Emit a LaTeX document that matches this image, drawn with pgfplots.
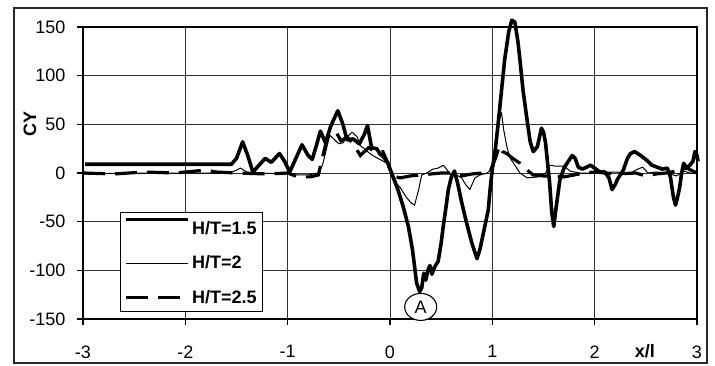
\documentclass[border=0pt]{standalone}
\usepackage{pgfplots}
\pgfplotsset{compat=1.18}
\usepackage{fontspec}
\setmainfont{Liberation Sans}
\usetikzlibrary{shapes.geometric}
\pgfplotsset{
  raisedleg/.style={legend image code/.code={\draw[##1] (0pt,9pt) -- (62pt,9pt);}},
  flatleg/.style={legend image code/.code={\draw[##1] (0pt,0pt) -- (62pt,0pt);}},
}

\pgfplotstableread{
x y
-2.98 9
-1.55 9
-1.50 15
-1.44 32
-1.39 18
-1.34 1
-1.28 8
-1.22 15
-1.16 11
-1.08 20
-1.03 12
-0.98 1
-0.92 15
-0.86 29
-0.80 18
-0.76 14
-0.72 28
-0.68 43
-0.63 31
-0.58 48
-0.51 64
-0.46 50
-0.42 34
-0.36 35
-0.30 30
-0.25 40
-0.22 49
-0.18 26
-0.13 25
-0.10 20
-0.06 16
-0.02 10
0.03 -4
0.08 -18
0.13 -35
0.18 -55
0.22 -79
0.26 -113
0.29 -122
0.31 -118
0.33 -103
0.35 -110
0.37 -100
0.39 -95
0.41 -104
0.43 -98
0.45 -94
0.47 -91
0.50 -72
0.52 -55
0.55 -33
0.57 -17
0.60 -4
0.63 2
0.66 -10
0.70 -30
0.75 -52
0.80 -72
0.85 -88
0.88 -78
0.92 -58
0.96 -38
0.98 -15
1.00 4
1.03 25
1.06 54
1.09 85
1.12 116
1.16 145
1.19 157
1.22 155
1.25 135
1.27 116
1.30 85
1.34 54
1.37 32
1.40 22
1.44 27
1.48 46
1.50 42
1.52 31
1.54 10
1.56 -10
1.58 -40
1.60 -55
1.62 -38
1.66 -7
1.70 5
1.73 10
1.78 18
1.81 15
1.84 6
1.88 4
1.92 6
1.96 8
2.00 5
2.05 1
2.10 1
2.14 -5
2.17 -17
2.20 -12
2.22 -7
2.28 3
2.32 15
2.35 20
2.39 22
2.45 18
2.51 13
2.56 8
2.61 6
2.66 4
2.71 5
2.74 -4
2.77 -25
2.79 -33
2.81 -25
2.83 -15
2.85 0
2.87 10
2.90 5
2.93 8
2.96 12
2.98 22
3.00 18
3.01 12
}\tA

\pgfplotstableread{
x y
-3.00 -1
-2.50 0
-2.00 0
-1.60 0
-1.52 2
-1.46 5
-1.40 1
-1.30 0
-1.00 -1
-0.90 -2
-0.80 -2
-0.70 0
-0.66 8
-0.62 25
-0.59 39
-0.56 36
-0.54 34
-0.50 30
-0.46 31
-0.41 38
-0.37 42
-0.32 37
-0.29 28
-0.25 25
-0.22 22
-0.17 18
-0.10 14
-0.03 10
0.03 -7
0.10 -15
0.16 -25
0.21 -31
0.24 -33
0.28 -17
0.31 -2
0.36 0
0.42 4
0.47 5
0.52 8
0.56 3
0.59 -2
0.65 -2
0.70 -5
0.74 -12
0.78 -17
0.83 -5
0.88 -2
0.95 0
1.00 5
1.04 30
1.07 55
1.09 62
1.11 45
1.14 28
1.17 16
1.22 8
1.27 0
1.34 -5
1.45 -4
1.52 0
1.56 8
1.62 7
1.70 7
1.76 2
1.85 0
2.00 0
2.20 1
2.35 0
2.42 4
2.47 6
2.52 0
2.60 1
2.70 0
2.80 -3
2.87 2
2.93 0
3.00 0
}\tB

\pgfplotstableread{
x y
-3.00 0
-2.70 -1
-2.40 1
-2.10 0
-1.80 3
-1.70 1
-1.50 0
-1.20 -1
-1.00 0
-0.90 -4
-0.78 -4
-0.70 -2
-0.66 16
-0.63 29
-0.59 41
-0.52 41
-0.48 33
-0.42 37
-0.36 30
-0.29 18
-0.21 26
-0.13 21
-0.07 22
-0.02 10
0.02 -3
0.10 -5
0.20 -3
0.30 -2
0.40 -1
0.50 0
0.60 0
0.70 -3
0.80 -1
0.90 0
0.98 2
1.03 15
1.07 28
1.10 22
1.14 20
1.20 15
1.27 10
1.30 6
1.34 3
1.40 -2
1.50 -3
1.60 -3
1.70 -4
1.80 -2
1.90 0
2.00 1
2.20 -1
2.40 0
2.50 -3
2.60 -1
2.70 0
2.80 2
2.90 5
3.00 0
}\tC

\begin{document}
\begin{tikzpicture}
\useasboundingbox (-83pt,-46pt) rectangle (632pt,319pt);
\draw[line width=1.4pt, black!85] (-69pt,-44pt) rectangle (624pt,311pt);
\begin{axis}[
  at={(0pt,0pt)}, anchor=south west,
  scale only axis, width=614pt, height=292pt,
  xmin=-3, xmax=3, ymin=-150, ymax=150,
  clip=false,
  xtick={-3,-2,-1,0,1,2,3},
  ytick={-150,-100,-50,0,50,100,150},
  grid=major,
  grid style={line width=0.9pt, draw=black!80},
  axis line style={line width=1.3pt},
  tick align=outside, tick pos=left,
  major tick length=6pt,
  tick style={line width=1.1pt, black},
  /pgf/number format/assume math mode=true,
  ticklabel style={font=\fontsize{18}{21}\selectfont},
  xticklabel shift=17pt,
  yticklabel shift=8pt,
  xlabel={x/l},
  xlabel style={at={(axis description cs:0.915,-0.1096)}, anchor=center, font=\bfseries\fontsize{18}{21}\selectfont},
  ylabel={CY},
  ylabel style={at={(axis description cs:-0.0863,0.667)}, anchor=center, font=\bfseries\fontsize{18}{21}\selectfont},
  legend style={at={(axis description cs:0.0603,0.366)}, anchor=north west,
    draw=black, line width=1.2pt, fill=white,
    font=\bfseries\fontsize{18}{21}\selectfont,
    row sep=16pt, inner xsep=4pt, inner ysep=5pt},
  legend cell align=left,
]
\addplot[black, line width=3.6pt, line join=round, raisedleg] table {\tA};
\addlegendentry{H/T=1.5}
\addplot[black, line width=1pt, line join=round, flatleg] table {\tB};
\addlegendentry{H/T=2}
\addplot[black, line width=3.2pt, dash pattern=on 22pt off 10pt, flatleg] table {\tC};
\addlegendentry{H/T=2.5}
\node[ellipse, draw, line width=1.1pt, fill=white, minimum width=32pt, minimum height=27pt, inner sep=0pt, font=\fontsize{18}{21}\selectfont] at (axis cs:0.30,-137.6) {A};
\end{axis}
\end{tikzpicture}
\end{document}
